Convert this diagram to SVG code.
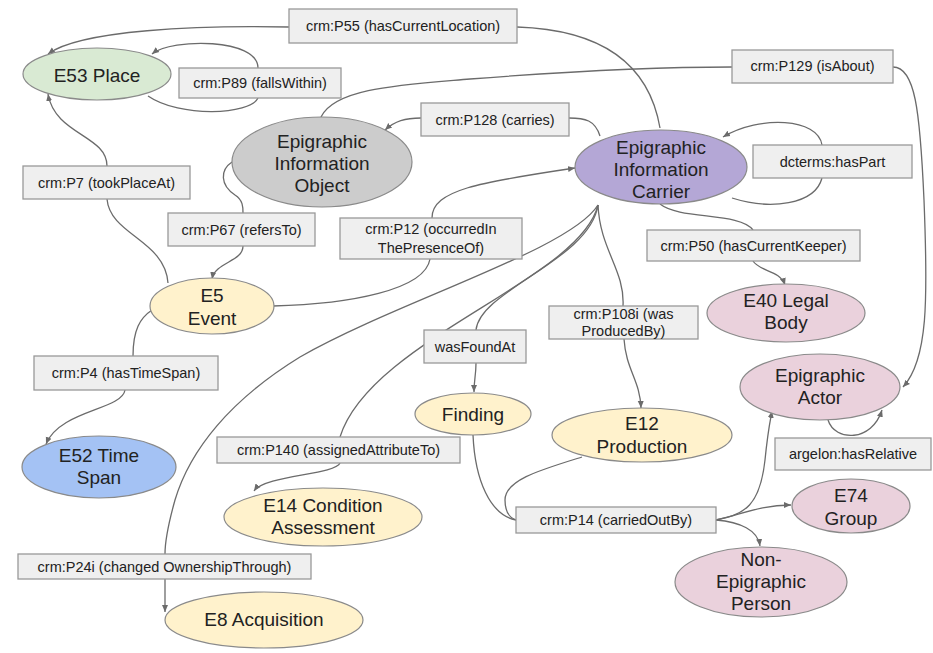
<svg xmlns="http://www.w3.org/2000/svg" width="933" height="653" viewBox="0 0 933 653">
<style>
  .bg{fill:#ffffff}
  .n{stroke:#8a8a8a;stroke-width:1.2}
  .green{fill:#d9ead3}
  .grey{fill:#cccccc}
  .purple{fill:#b4a7d6}
  .yellow{fill:#fff2cc}
  .blue{fill:#a4c2f4}
  .pink{fill:#ead1dc}
  .nt{font-family:"Liberation Sans",Arial,sans-serif;font-size:19px;fill:#222;text-anchor:middle}
  .lb{fill:#efefef;stroke:#999;stroke-width:1.3}
  .lt{font-family:"Liberation Sans",Arial,sans-serif;font-size:14.5px;fill:#222;text-anchor:middle}
  .c{fill:none;stroke:#6b6b6b;stroke-width:1.3}
  .a{marker-end:url(#arr)}
</style>
<defs>
  <marker id="arr" markerWidth="8" markerHeight="8" refX="7" refY="4" orient="auto" markerUnits="userSpaceOnUse">
    <path d="M0,1 L7,4 L0,7 Z" fill="#6b6b6b"/>
  </marker>
</defs>
<rect class="bg" x="0" y="0" width="933" height="653"/>

<g id="connectors">
  <!-- P55 -->
  <path class="c" d="M660,128 C650,70 610,30 517,27"/>
  <path class="c a" d="M289,27 C200,25 80,30 48,54"/>
  <!-- P89 loop -->
  <path class="c" d="M148,96 C180,118 250,115 258,98"/>
  <path class="c a" d="M258,68 C258,38 172,38 152,54"/>
  <!-- P129 -->
  <path class="c" d="M321,117 C335,88 400,85 470,79 C560,72 650,67 732,67"/>
  <path class="c a" d="M893,67 C915,67 920,110 924,200 C928,300 928,360 903,387"/>
  <!-- P128 -->
  <path class="c" d="M600,136 C595,120 585,118 569,118"/>
  <path class="c a" d="M421,118 C405,118 395,121 385,130"/>
  <!-- hasPart loop -->
  <path class="c" d="M732,198 C770,210 815,205 822,178"/>
  <path class="c a" d="M822,145 C818,118 760,115 723,137"/>
  <!-- P7 -->
  <path class="c" d="M168,283 C165,240 110,235 107,199"/>
  <path class="c a" d="M107,166 C107,135 55,135 48,94"/>
  <!-- P67 -->
  <path class="c" d="M232,162 C220,170 220,185 235,195 C243,200 243,207 243,213"/>
  <path class="c a" d="M243,246 C243,262 215,262 212,279"/>
  <!-- P12 -->
  <path class="c" d="M273,306 C350,304 425,290 430,259"/>
  <path class="c a" d="M432,218 C432,190 480,182 575,168"/>
  <!-- P50 -->
  <path class="c" d="M660,204 C680,220 740,212 753,230"/>
  <path class="c a" d="M753,261 C760,272 780,270 785,285"/>
  <!-- P108i -->
  <path class="c" d="M598,205 C600,250 625,270 623,306"/>
  <path class="c a" d="M624,339 C626,370 640,380 641,408"/>
  <!-- wasFoundAt -->
  <path class="c" d="M598,205 C590,260 480,290 476,330"/>
  <path class="c a" d="M476,363 C476,375 474,380 474,392"/>
  <!-- P140 -->
  <path class="c" d="M598,205 C580,280 370,340 340,437"/>
  <path class="c a" d="M340,463 C335,475 265,475 254,491"/>
  <!-- P24i -->
  <path class="c" d="M598,205 C570,250 400,300 300,357 C230,400 190,450 175,500 C168,525 165,540 165,554"/>
  <path class="c a" d="M165,579 L165,612"/>
  <!-- P14 -->
  <path class="c" d="M473,435 C475,480 490,515 516,520"/>
  <path class="c" d="M582,457 C540,470 505,480 505,500 C505,512 510,518 516,520"/>
  <path class="c a" d="M716,520 C745,515 760,505 765,460 C768,430 770,422 772,411"/>
  <path class="c a" d="M716,520 C740,515 760,505 791,505"/>
  <path class="c a" d="M716,520 C740,522 758,530 760,546"/>
  <!-- hasRelative loop -->
  <path class="c a" d="M828,420 C835,442 872,442 882,410"/>
  <!-- P4 -->
  <path class="c" d="M152,310 C140,318 133,330 133,356"/>
  <path class="c a" d="M125,390 C122,410 60,410 46,444"/>
</g>

<g id="labels">
  <g id="lbl-p55"><rect class="lb" x="289" y="9" width="228" height="34"/><text class="lt" x="403" y="31">crm:P55 (hasCurrentLocation)</text></g>
  <g id="lbl-p89"><rect class="lb" x="179" y="68" width="162" height="30"/><text class="lt" x="260" y="88">crm:P89 (fallsWithin)</text></g>
  <g id="lbl-p129"><rect class="lb" x="732" y="50" width="161" height="33"/><text class="lt" x="812.5" y="71">crm:P129 (isAbout)</text></g>
  <g id="lbl-p128"><rect class="lb" x="421" y="103" width="148" height="33"/><text class="lt" x="495" y="125">crm:P128 (carries)</text></g>
  <g id="lbl-haspart"><rect class="lb" x="753" y="145" width="159" height="33"/><text class="lt" x="832.5" y="167">dcterms:hasPart</text></g>
  <g id="lbl-p7"><rect class="lb" x="23" y="166" width="167" height="33"/><text class="lt" x="106.5" y="188">crm:P7 (tookPlaceAt)</text></g>
  <g id="lbl-p67"><rect class="lb" x="168" y="213" width="147" height="33"/><text class="lt" x="241.5" y="235">crm:P67 (refersTo)</text></g>
  <g id="lbl-p12"><rect class="lb" x="340" y="218" width="182" height="41"/><text class="lt" x="431" y="234">crm:P12 (occurredIn</text><text class="lt" x="431" y="253">ThePresenceOf)</text></g>
  <g id="lbl-p50"><rect class="lb" x="647" y="230" width="213" height="31"/><text class="lt" x="753.5" y="251">crm:P50 (hasCurrentKeeper)</text></g>
  <g id="lbl-p108i"><rect class="lb" x="549" y="306" width="149" height="33"/><text class="lt" x="623.5" y="319">crm:P108i (was</text><text class="lt" x="623.5" y="336">ProducedBy)</text></g>
  <g id="lbl-wasfoundat"><rect class="lb" x="424" y="330" width="102" height="33"/><text class="lt" x="475" y="352">wasFoundAt</text></g>
  <g id="lbl-p4"><rect class="lb" x="34" y="356" width="184" height="34"/><text class="lt" x="126" y="378">crm:P4 (hasTimeSpan)</text></g>
  <g id="lbl-p140"><rect class="lb" x="217" y="437" width="243" height="26"/><text class="lt" x="338.5" y="455">crm:P140 (assignedAttributeTo)</text></g>
  <g id="lbl-hasrelative"><rect class="lb" x="775" y="438" width="156" height="32"/><text class="lt" x="853" y="459">argelon:hasRelative</text></g>
  <g id="lbl-p14"><rect class="lb" x="516" y="507" width="200" height="26"/><text class="lt" x="616" y="525">crm:P14 (carriedOutBy)</text></g>
  <g id="lbl-p24i"><rect class="lb" x="18" y="554" width="293" height="25"/><text class="lt" x="164.5" y="572">crm:P24i (changed OwnershipThrough)</text></g>
</g>

<g id="node-e53"><ellipse class="n green" cx="97" cy="74" rx="74" ry="26"/><text class="nt" x="97" y="82">E53 Place</text></g>
<g id="node-eio"><ellipse class="n grey" cx="322" cy="162" rx="90" ry="45"/><text class="nt" x="322" y="148">Epigraphic</text><text class="nt" x="322" y="170">Information</text><text class="nt" x="322" y="192">Object</text></g>
<g id="node-eic"><ellipse class="n purple" cx="661" cy="167" rx="86" ry="37"/><text class="nt" x="661" y="154">Epigraphic</text><text class="nt" x="661" y="176">Information</text><text class="nt" x="661" y="198">Carrier</text></g>
<g id="node-e5"><ellipse class="n yellow" cx="212" cy="306" rx="62" ry="28"/><text class="nt" x="212" y="302">E5</text><text class="nt" x="212" y="325">Event</text></g>
<g id="node-e52"><ellipse class="n blue" cx="99" cy="467" rx="77" ry="31"/><text class="nt" x="99" y="462">E52 Time</text><text class="nt" x="99" y="484">Span</text></g>
<g id="node-e14"><ellipse class="n yellow" cx="323" cy="517" rx="99" ry="29"/><text class="nt" x="323" y="512">E14 Condition</text><text class="nt" x="323" y="534">Assessment</text></g>
<g id="node-e8"><ellipse class="n yellow" cx="264" cy="620" rx="99" ry="28"/><text class="nt" x="264" y="626">E8 Acquisition</text></g>
<g id="node-finding"><ellipse class="n yellow" cx="473" cy="414" rx="58" ry="21"/><text class="nt" x="473" y="421">Finding</text></g>
<g id="node-e12"><ellipse class="n yellow" cx="642" cy="435" rx="90" ry="27"/><text class="nt" x="642" y="430">E12</text><text class="nt" x="642" y="453">Production</text></g>
<g id="node-e40"><ellipse class="n pink" cx="786" cy="313" rx="79" ry="29"/><text class="nt" x="786" y="307">E40 Legal</text><text class="nt" x="786" y="329">Body</text></g>
<g id="node-actor"><ellipse class="n pink" cx="820" cy="387" rx="80" ry="33"/><text class="nt" x="820" y="382">Epigraphic</text><text class="nt" x="820" y="404">Actor</text></g>
<g id="node-e74"><ellipse class="n pink" cx="851" cy="506" rx="59" ry="27"/><text class="nt" x="851" y="502">E74</text><text class="nt" x="851" y="525">Group</text></g>
<g id="node-person"><ellipse class="n pink" cx="761" cy="582" rx="86" ry="35"/><text class="nt" x="761" y="566">Non-</text><text class="nt" x="761" y="588">Epigraphic</text><text class="nt" x="761" y="610">Person</text></g>
</svg>
